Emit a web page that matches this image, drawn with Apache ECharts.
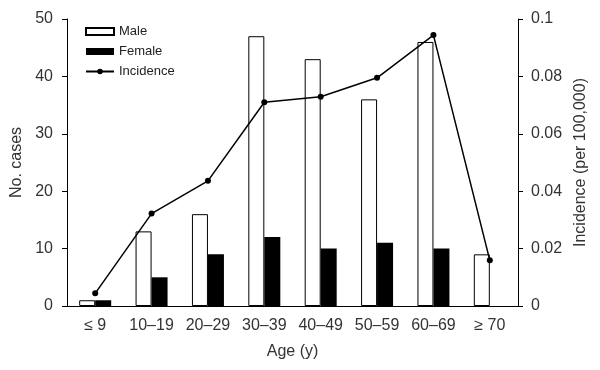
<!DOCTYPE html>
<html><head><meta charset="utf-8">
<script src="https://cdn.jsdelivr.net/npm/echarts@6/dist/echarts.min.js"></script>
<style>html,body{margin:0;padding:0;background:#fff}#c{width:600px;height:370px}</style>
</head><body><div id="c"></div>
<script>
var categories = ['≤ 9', '10–19', '20–29', '30–39', '40–49', '50–59', '60–69', '≥ 70'];
var male = [1, 13, 16, 47, 43, 36, 46, 9];
var female = [1, 5, 9, 12, 10, 11, 10, 0];
var incidence = [0.0044, 0.0322, 0.0436, 0.071, 0.0729, 0.0795, 0.0944, 0.0159];
var leftTicks = {min: 0, max: 50, interval: 10};
var rightTicks = {min: 0, max: 0.1, interval: 0.02};

var font = 'Liberation Sans, Arial, sans-serif';
var chart = echarts.init(document.getElementById('c'));
chart.setOption({
  animation: false,
  grid: {left: 67, right: 82, top: 19, bottom: 64},
  legend: {
    orient: 'vertical', left: 85, top: 25, padding: 0, itemGap: 7, itemWidth: 28, itemHeight: 7,
    textStyle: {fontFamily: font, fontSize: 13, color: '#222'},
    data: [{name: 'Male', icon: 'rect'}, {name: 'Female', icon: 'rect'}, {name: 'Incidence'}]
  },
  xAxis: {
    type: 'category', data: categories,
    axisLine: {lineStyle: {color: '#000', width: 1}},
    axisTick: {length: 6, lineStyle: {color: '#000'}},
    axisLabel: {fontFamily: font, fontSize: 16, color: '#333', margin: 12, interval: 0, hideOverlap: false},
    name: 'Age (y)', nameLocation: 'middle', nameGap: 38,
    nameTextStyle: {fontFamily: font, fontSize: 16, color: '#333'}
  },
  yAxis: [{
    type: 'value', min: leftTicks.min, max: leftTicks.max, interval: leftTicks.interval,
    axisLine: {show: true, lineStyle: {color: '#000'}},
    axisTick: {show: true, length: 5, lineStyle: {color: '#000'}},
    splitLine: {show: false},
    axisLabel: {fontFamily: font, fontSize: 16, color: '#333', margin: 14},
    name: 'No. cases', nameLocation: 'middle', nameGap: 40,
    nameTextStyle: {fontFamily: font, fontSize: 16, color: '#333'}
  }, {
    type: 'value', min: rightTicks.min, max: rightTicks.max, interval: rightTicks.interval,
    position: 'right',
    axisLine: {show: true, lineStyle: {color: '#000'}},
    axisTick: {show: true, length: 5, lineStyle: {color: '#000'}},
    splitLine: {show: false},
    axisLabel: {fontFamily: font, fontSize: 16, color: '#333', margin: 13,
      formatter: function (v) { return String(+v.toFixed(2)); }},
    name: 'Incidence (per 100,000)', nameLocation: 'middle', nameGap: 54, nameRotate: 90,
    nameTextStyle: {fontFamily: font, fontSize: 16, color: '#333'}
  }],
  series: [{
    name: 'Male', type: 'bar', data: male, barWidth: 16, barGap: '0%',
    itemStyle: {color: '#fff', borderColor: '#000', borderWidth: 1}
  }, {
    name: 'Female', type: 'bar', data: female, barWidth: 16,
    itemStyle: {color: '#000', borderWidth: 0}
  }, {
    name: 'Incidence', type: 'line', yAxisIndex: 1, data: incidence,
    symbol: 'circle', symbolSize: 6,
    lineStyle: {color: '#000', width: 1.5}, itemStyle: {color: '#000'}
  }]
});
</script></body></html>
